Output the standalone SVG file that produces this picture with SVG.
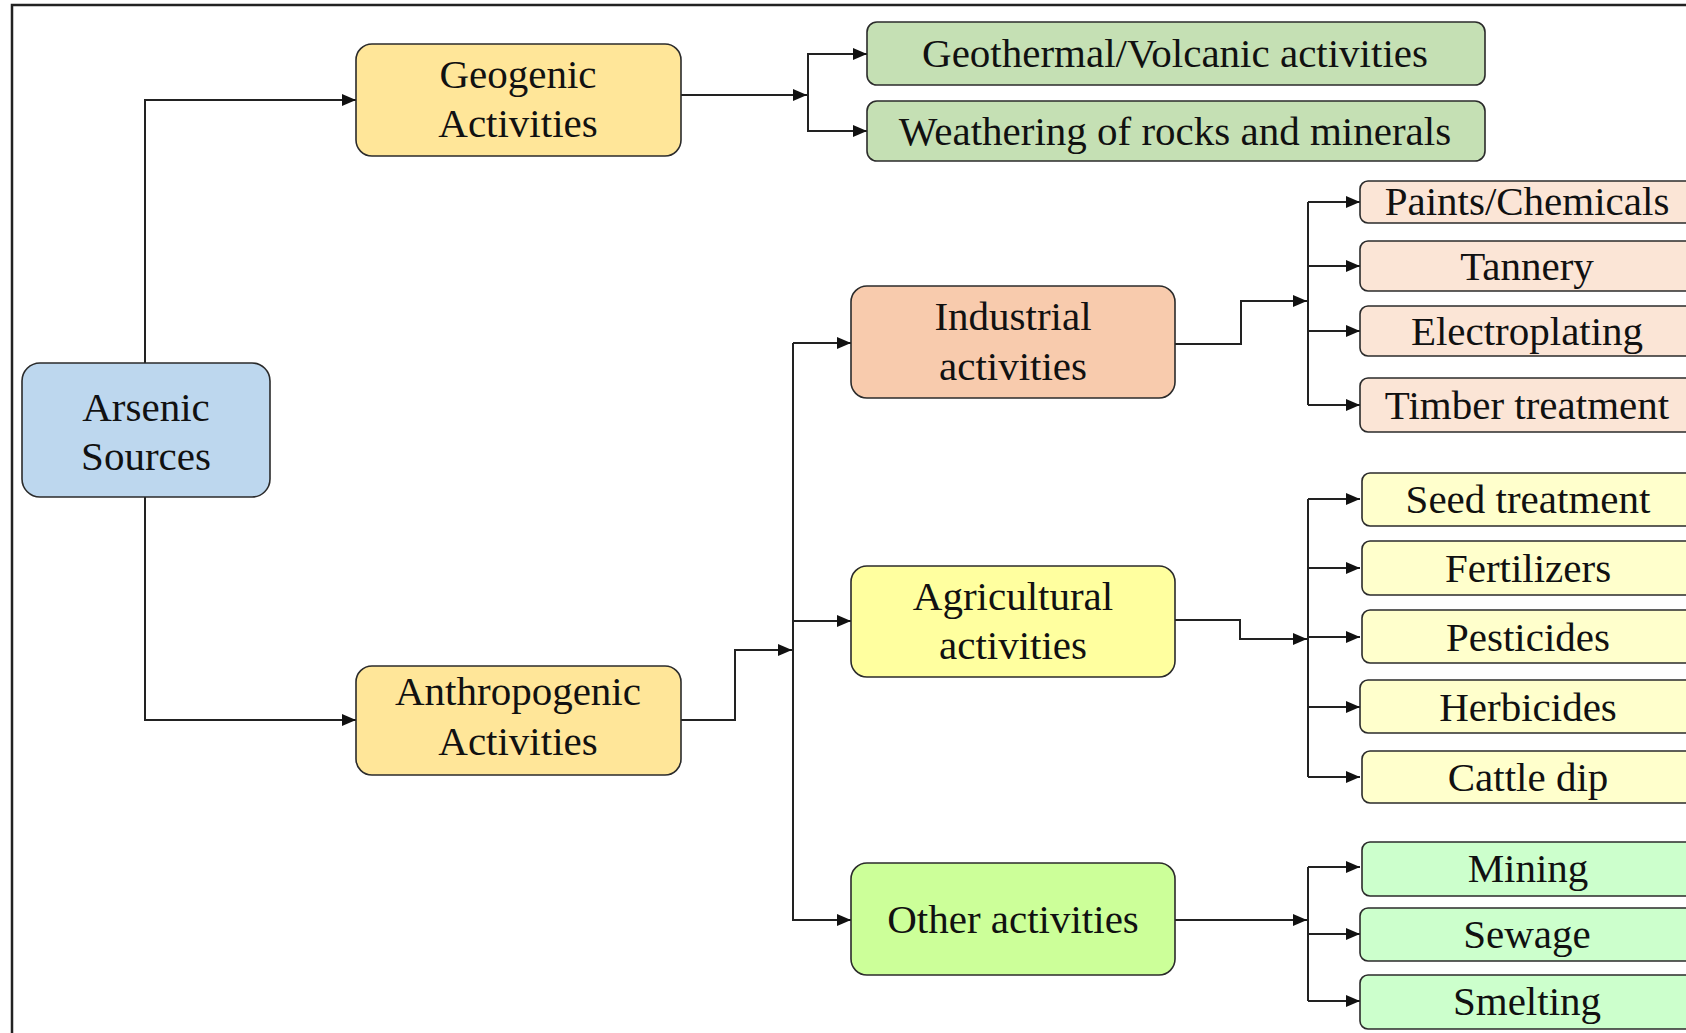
<svg xmlns="http://www.w3.org/2000/svg" width="1686" height="1033" viewBox="0 0 1686 1033">
<style>
.box{stroke:#2b2b2b;stroke-width:1.6}
.t{font-family:"Liberation Serif","Times New Roman",serif;font-size:41px;fill:#111;text-anchor:middle}
.c{fill:none;stroke:#222;stroke-width:2}
.blue{fill:#BDD7EE}.gold{fill:#FFE699}.sage{fill:#C5E0B4}.peach{fill:#F8CBAD}.yel{fill:#FFFF9F}.lime{fill:#CCFF99}
.lpeach{fill:#FBE5D6}.lyel{fill:#FFFFCC}.mint{fill:#CCFFCC}
</style>
<defs>
<marker id="ah" markerUnits="userSpaceOnUse" markerWidth="16" markerHeight="14" refX="14" refY="6" orient="auto">
<path d="M0,0 L14,6 L0,12 Z" fill="#111"/>
</marker>
</defs>
<rect width="1686" height="1033" fill="#fff"/>
<path d="M12,1033 V5 H1686" fill="none" stroke="#222" stroke-width="2.5"/>

<g id="connectors">
<path class="c" d="M145,363 V100 H356" marker-end="url(#ah)"/>
<path class="c" d="M145,497 V720 H356" marker-end="url(#ah)"/>
<path class="c" d="M681,95 H807" marker-end="url(#ah)"/>
<path class="c" d="M808,95 V54 H867" marker-end="url(#ah)"/>
<path class="c" d="M808,95 V131 H867" marker-end="url(#ah)"/>
<path class="c" d="M681,720 H735 V650 H792" marker-end="url(#ah)"/>
<path class="c" d="M793,343 V921"/>
<path class="c" d="M793,343 H851" marker-end="url(#ah)"/>
<path class="c" d="M793,621 H851" marker-end="url(#ah)"/>
<path class="c" d="M793,920 H851" marker-end="url(#ah)"/>
<path class="c" d="M1175,344 H1241 V301 H1307" marker-end="url(#ah)"/>
<path class="c" d="M1308,202 V405"/>
<path class="c" d="M1308,202 H1360" marker-end="url(#ah)"/>
<path class="c" d="M1308,266 H1360" marker-end="url(#ah)"/>
<path class="c" d="M1308,331 H1360" marker-end="url(#ah)"/>
<path class="c" d="M1308,405 H1360" marker-end="url(#ah)"/>
<path class="c" d="M1175,620 H1240 V639 H1307" marker-end="url(#ah)"/>
<path class="c" d="M1308,499 V777"/>
<path class="c" d="M1308,499 H1360" marker-end="url(#ah)"/>
<path class="c" d="M1308,568 H1360" marker-end="url(#ah)"/>
<path class="c" d="M1308,637 H1360" marker-end="url(#ah)"/>
<path class="c" d="M1308,707 H1360" marker-end="url(#ah)"/>
<path class="c" d="M1308,777 H1360" marker-end="url(#ah)"/>
<path class="c" d="M1175,920 H1307" marker-end="url(#ah)"/>
<path class="c" d="M1308,867 V1001"/>
<path class="c" d="M1308,867 H1360" marker-end="url(#ah)"/>
<path class="c" d="M1308,934 H1360" marker-end="url(#ah)"/>
<path class="c" d="M1308,1001 H1360" marker-end="url(#ah)"/>
</g>

<g id="arsenic"><rect class="box blue" x="22" y="363" width="248" height="134" rx="18"/>
<text class="t" x="146" y="421">Arsenic</text><text class="t" x="146" y="470">Sources</text></g>

<g id="geogenic"><rect class="box gold" x="356" y="44" width="325" height="112" rx="16"/>
<text class="t" x="518" y="88">Geogenic</text><text class="t" x="518" y="137">Activities</text></g>

<g id="anthropogenic"><rect class="box gold" x="356" y="666" width="325" height="109" rx="16"/>
<text class="t" x="518" y="705">Anthropogenic</text><text class="t" x="518" y="755">Activities</text></g>

<g id="geothermal"><rect class="box sage" x="867" y="22" width="618" height="63" rx="10"/>
<text class="t" x="1175" y="67">Geothermal/Volcanic activities</text></g>

<g id="weathering"><rect class="box sage" x="867" y="101" width="618" height="60" rx="10"/>
<text class="t" x="1175" y="145">Weathering of rocks and minerals</text></g>

<g id="industrial"><rect class="box peach" x="851" y="286" width="324" height="112" rx="16"/>
<text class="t" x="1013" y="330">Industrial</text><text class="t" x="1013" y="380">activities</text></g>

<g id="agricultural"><rect class="box yel" x="851" y="566" width="324" height="111" rx="16"/>
<text class="t" x="1013" y="610">Agricultural</text><text class="t" x="1013" y="659">activities</text></g>

<g id="other"><rect class="box lime" x="851" y="863" width="324" height="112" rx="16"/>
<text class="t" x="1013" y="933">Other activities</text></g>

<g id="paints"><rect class="box lpeach" x="1360" y="181" width="340" height="42" rx="8"/>
<text class="t" x="1527" y="215">Paints/Chemicals</text></g>
<g id="tannery"><rect class="box lpeach" x="1360" y="241" width="340" height="50" rx="8"/>
<text class="t" x="1527" y="280">Tannery</text></g>
<g id="electroplating"><rect class="box lpeach" x="1360" y="306" width="340" height="50" rx="8"/>
<text class="t" x="1527" y="345">Electroplating</text></g>
<g id="timber"><rect class="box lpeach" x="1360" y="378" width="340" height="54" rx="8"/>
<text class="t" x="1527" y="419">Timber treatment</text></g>

<g id="seed"><rect class="box lyel" x="1362" y="473" width="340" height="53" rx="8"/>
<text class="t" x="1528" y="513">Seed treatment</text></g>
<g id="fertilizers"><rect class="box lyel" x="1362" y="541" width="340" height="54" rx="8"/>
<text class="t" x="1528" y="582">Fertilizers</text></g>
<g id="pesticides"><rect class="box lyel" x="1362" y="610" width="340" height="53" rx="8"/>
<text class="t" x="1528" y="651">Pesticides</text></g>
<g id="herbicides"><rect class="box lyel" x="1360" y="680" width="340" height="53" rx="8"/>
<text class="t" x="1528" y="721">Herbicides</text></g>
<g id="cattle"><rect class="box lyel" x="1362" y="751" width="340" height="52" rx="8"/>
<text class="t" x="1528" y="791">Cattle dip</text></g>

<g id="mining"><rect class="box mint" x="1362" y="842" width="340" height="54" rx="8"/>
<text class="t" x="1528" y="882">Mining</text></g>
<g id="sewage"><rect class="box mint" x="1360" y="908" width="340" height="53" rx="8"/>
<text class="t" x="1527" y="948">Sewage</text></g>
<g id="smelting"><rect class="box mint" x="1360" y="975" width="340" height="54" rx="8"/>
<text class="t" x="1527" y="1015">Smelting</text></g>
</svg>
